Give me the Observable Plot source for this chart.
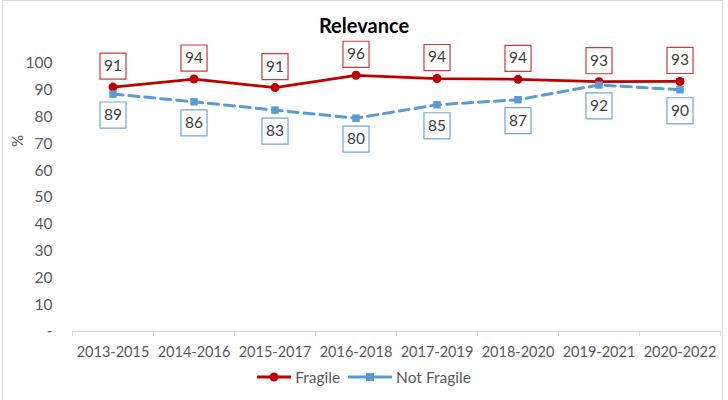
<!DOCTYPE html>
<html>
<head>
<meta charset="utf-8">
<script src="https://cdn.jsdelivr.net/npm/d3@7"></script>
<script src="https://cdn.jsdelivr.net/npm/@observablehq/plot@0.6"></script>
<style>
  html, body { margin: 0; padding: 0; background: #fff; }
  #wrap { position: relative; width: 728px; height: 400px; overflow: hidden; font-family: Lato, "Liberation Sans", sans-serif; }
  #border { position: absolute; left: 2px; top: 0px; width: 721px; height: 420px; border: 1px solid #D9D9D9; box-sizing: border-box; }
  #title { position: absolute; left: 0; top: 13px; width: 728px; text-align: center; font-size: 20px; font-weight: bold; color: #000; line-height: 24px; }
  #ylab { position: absolute; left: 11px; top: 133px; font-size: 15px; color: #595959; transform: rotate(-90deg); transform-origin: center; line-height: 16px; }
  #legend { position: absolute; left: 0; top: 367px; width: 728px; display: flex; justify-content: center; align-items: center; font-size: 15.5px; color: #595959; line-height: 20px; }
  #legend .item { display: flex; align-items: center; margin: 0 4px; }
  #legend svg { margin-right: 4px; }
  #chart { position: absolute; left: 0; top: 0; }
</style>
</head>
<body>
<div id="wrap">
  <div id="chart"></div>
  <div id="border"></div>
  <div id="title">Relevance</div>
  <div id="ylab">%</div>
  <div id="legend"></div>
</div>
<script>
const categories = ["2013-2015","2014-2016","2015-2017","2016-2018","2017-2019","2018-2020","2019-2021","2020-2022"];
const fragile = [91.2, 94.2, 91.0, 95.6, 94.4, 94.1, 93.2, 93.3];
const notFragile = [88.6, 85.7, 82.6, 79.6, 84.6, 86.5, 92.0, 90.2];
const yTicks = [0,10,20,30,40,50,60,70,80,90,100];
const seriesNames = ["Fragile", "Not Fragile"];
const colors = {"Fragile": "#C00000", "Not Fragile": "#5B9BD5"};
const boxColors = {"Fragile": "#D7363B", "Not Fragile": "#6FA6DA"};

const rows = [];
categories.forEach((c, i) => {
  rows.push({series: "Fragile", i, cat: c, value: fragile[i]});
  rows.push({series: "Not Fragile", i, cat: c, value: notFragile[i]});
});
const fr = rows.filter(d => d.series === "Fragile");
const nf = rows.filter(d => d.series === "Not Fragile");
const boundaries = d3.range(categories.length + 1).map(i => i - 0.5);
const textColor = "#595959";

const chart = Plot.plot({
  width: 728,
  height: 400,
  marginTop: 63,
  marginBottom: 69,
  marginLeft: 72,
  marginRight: 8,
  style: {fontFamily: "Lato, 'Liberation Sans', sans-serif", background: "transparent"},
  x: {type: "linear", domain: [-0.5, categories.length - 0.5]},
  y: {domain: [0, 100]},
  marks: [
    Plot.ruleY([0], {stroke: "#D9D9D9", strokeWidth: 1}),
    Plot.axisX({ticks: boundaries, tickSize: 5, tickFormat: () => "", stroke: "#D9D9D9", strokeOpacity: 1, label: null}),
    Plot.axisX({ticks: d3.range(categories.length), tickSize: 0, tickPadding: 15, tickFormat: i => categories[i], fontSize: 14.5, fill: textColor, label: null}),
    Plot.axisY({ticks: yTicks, tickSize: 0, tickPadding: 20, tickFormat: d => d === 0 ? "-" : d, fontSize: 15.5, fill: textColor, label: null}),
    Plot.line(fr, {x: "i", y: "value", stroke: colors["Fragile"], strokeWidth: 2.75}),
    Plot.dot(fr, {x: "i", y: "value", r: 4.5, fill: colors["Fragile"], stroke: "none"}),
    Plot.line(nf, {x: "i", y: "value", stroke: colors["Not Fragile"], strokeWidth: 3, strokeDasharray: "10,6"}),
    Plot.dot(nf, {x: "i", y: "value", symbol: "square", r: 4.2, fill: colors["Not Fragile"], stroke: "none"}),
    Plot.dot(fr, {x: "i", y: "value", symbol: "square", r: 14.7, dy: -21, fill: "white", stroke: boxColors["Fragile"], strokeWidth: 1.2}),
    Plot.text(fr, {x: "i", y: "value", dy: -21, text: d => Math.round(d.value), fontSize: 15.5, fill: "#404040"}),
    Plot.dot(nf, {x: "i", y: "value", symbol: "square", r: 14.7, dy: 21, fill: "white", stroke: boxColors["Not Fragile"], strokeWidth: 1.2}),
    Plot.text(nf, {x: "i", y: "value", dy: 21, text: d => Math.round(d.value), fontSize: 15.5, fill: "#404040"})
  ]
});
document.getElementById("chart").appendChild(chart);

// legend
const legend = document.getElementById("legend");
seriesNames.forEach(name => {
  const item = document.createElement("div");
  item.className = "item";
  const w = name === "Fragile" ? 34 : 44;
  const marker = name === "Fragile"
    ? `<circle cx="${w/2}" cy="8" r="4.5" fill="${colors[name]}"/>`
    : `<rect x="${w/2-4}" y="4" width="8" height="8" fill="${colors[name]}"/>`;
  item.innerHTML = `<svg width="${w}" height="16"><line x1="0" x2="${w}" y1="8" y2="8" stroke="${colors[name]}" stroke-width="3"/>${marker}</svg><span>${name}</span>`;
  legend.appendChild(item);
});
</script>
</body>
</html>
